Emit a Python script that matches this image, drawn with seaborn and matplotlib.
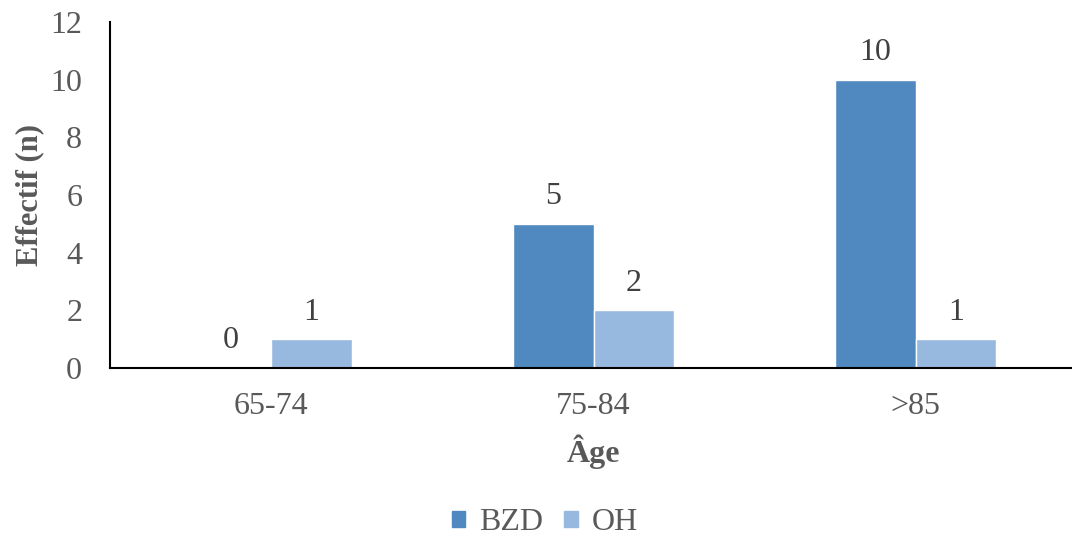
import matplotlib
matplotlib.use("Agg")
import matplotlib.pyplot as plt
import seaborn as sns
import pandas as pd

categories = ["65-74", "75-84", ">85"]
bzd = [0, 5, 10]
oh = [1, 2, 1]
series_names = ["BZD", "OH"]
colors = ["#4F89C0", "#98B9DF"]

df = pd.DataFrame({
    "Âge": categories * 2,
    "Effectif": bzd + oh,
    "Groupe": [series_names[0]] * 3 + [series_names[1]] * 3,
})

sns.set_theme(style="white")
plt.rcParams["font.family"] = ["Liberation Serif", "DejaVu Serif"]
gray = "#595959"
fs = 23

fig = plt.figure(figsize=(10.72, 5.39), dpi=100)
ax = fig.add_axes([110 / 1072, 1 - 368 / 539, 967 / 1072, 346 / 539])

sns.barplot(data=df, x="Âge", y="Effectif", hue="Groupe", palette=colors,
            width=0.5, gap=0, ax=ax, legend=False, saturation=1)

ax.set_ylim(0, 12)
ax.set_yticks(range(0, 13, 2))
ax.set_xlim(-0.5, 2.5)
ax.tick_params(axis="both", length=0, labelsize=fs, labelcolor=gray)
ax.tick_params(axis="y", pad=20)
ax.tick_params(axis="x", pad=17)
for s in ["top", "right"]:
    ax.spines[s].set_visible(False)
for s in ["left", "bottom"]:
    ax.spines[s].set_color("black")
    ax.spines[s].set_linewidth(1.5)

ax.set_ylabel("Effectif (n)", fontsize=22, fontweight="bold", color=gray)
ax.yaxis.set_label_coords(-66 / 967, 0.5)
ax.set_xlabel("Âge", fontsize=fs, fontweight="bold", color=gray, labelpad=10)

for cont in ax.containers:
    ax.bar_label(cont, fmt="%d", padding=9, fontsize=fs, color="#404040")

handles = [plt.Rectangle((0, 0), 1, 1, color=c) for c in colors]
fig.legend(handles, series_names, loc="center", bbox_to_anchor=(545 / 1072, 1 - 523 / 539),
           ncol=2, frameon=False, fontsize=fs, labelcolor=gray,
           handlelength=0.42, handleheight=0.42, handletextpad=0.45, columnspacing=0.65)

fig.savefig("out.png", dpi=100)
